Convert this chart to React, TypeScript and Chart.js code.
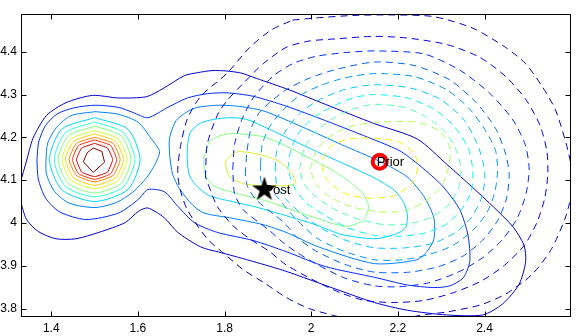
import React, { useEffect, useRef } from "react";
import { Chart, registerables } from "chart.js";

Chart.register(...registerables);

type P = [number, number];

// axis limits and ticks
const X_MIN = 1.3302;
const X_MAX = 2.5973;
const Y_MIN = 3.7814;
const Y_MAX = 4.4882;
const X_TICKS = [1.4, 1.6, 1.8, 2, 2.2, 2.4];
const Y_TICKS = [3.8, 3.9, 4, 4.1, 4.2, 4.3, 4.4];

// markers and their labels
const POST_POINT: P = [1.892, 4.078];
const PRIOR_POINT: P = [2.158, 4.143];
const POST_LABEL = "Post";
const PRIOR_LABEL = "Prior";

// ---- posterior (solid) contours ----
const POST_L1: P[] = [
  [1.329, 4.051], [1.343, 4.008], [1.37, 3.98], [1.411, 3.963], [1.457, 3.963], [1.51, 3.978], [1.571, 4.001],
  [1.601, 4.027], [1.623, 4.035], [1.661, 4.012], [1.692, 3.978], [1.745, 3.944], [1.798, 3.929], [1.866, 3.91],
  [1.942, 3.887], [2.055, 3.846], [2.146, 3.814], [2.222, 3.796], [2.313, 3.785], [2.396, 3.785], [2.442, 3.811],
  [2.48, 3.857], [2.495, 3.91], [2.491, 3.948], [2.464, 3.993], [2.396, 4.061], [2.313, 4.137], [2.245, 4.196],
  [2.146, 4.232], [2.033, 4.277], [1.949, 4.311], [1.873, 4.338], [1.839, 4.35], [1.805, 4.355], [1.771, 4.356],
  [1.737, 4.351], [1.707, 4.344], [1.658, 4.314], [1.62, 4.295], [1.555, 4.292], [1.495, 4.298], [1.434, 4.281],
  [1.389, 4.251], [1.358, 4.198], [1.343, 4.145], [1.329, 4.096],
];
const POST_L2: P[] = [
  [1.367, 4.148], [1.37, 4.103], [1.387, 4.058], [1.419, 4.026], [1.48, 4.008], [1.555, 4.023], [1.601, 4.055],
  [1.623, 4.078], [1.661, 4.073], [1.692, 4.039], [1.73, 4.001], [1.783, 3.978], [1.866, 3.959], [1.942, 3.933],
  [2.033, 3.898], [2.146, 3.873], [2.222, 3.855], [2.283, 3.849], [2.32, 3.853], [2.351, 3.872], [2.366, 3.91],
  [2.362, 3.97], [2.343, 4.031], [2.305, 4.084], [2.26, 4.126], [2.207, 4.167], [2.146, 4.194], [2.033, 4.239],
  [1.942, 4.273], [1.866, 4.296], [1.805, 4.304], [1.76, 4.302], [1.714, 4.292], [1.669, 4.27], [1.623, 4.246],
  [1.589, 4.258], [1.555, 4.27], [1.501, 4.275], [1.453, 4.269], [1.414, 4.255], [1.387, 4.228], [1.371, 4.189],
  [1.367, 4.148],
];
const POST_L3_LEFT: P[] = [
  [1.501, 4.26], [1.555, 4.254], [1.601, 4.235], [1.63, 4.198], [1.65, 4.167], [1.642, 4.142], [1.628, 4.117],
  [1.612, 4.096], [1.587, 4.071], [1.551, 4.048], [1.501, 4.036], [1.442, 4.046], [1.408, 4.073], [1.389, 4.114],
  [1.388, 4.148], [1.392, 4.187], [1.412, 4.223], [1.446, 4.251], [1.501, 4.26],
];
const POST_L4_LEFT: P[] = [
  [1.5, 4.246], [1.577, 4.219], [1.605, 4.148], [1.577, 4.078], [1.5, 4.05], [1.424, 4.078], [1.396, 4.148],
  [1.424, 4.219], [1.5, 4.246],
];
const POST_L5_LEFT: P[] = [
  [1.5, 4.236], [1.567, 4.211], [1.593, 4.148], [1.567, 4.085], [1.5, 4.061], [1.433, 4.085], [1.407, 4.148],
  [1.433, 4.211], [1.5, 4.236],
];
const POST_L6_LEFT: P[] = [
  [1.5, 4.226], [1.561, 4.204], [1.584, 4.148], [1.561, 4.092], [1.5, 4.07], [1.44, 4.092], [1.416, 4.148],
  [1.44, 4.204], [1.5, 4.226],
];
const POST_L7: P[] = [
  [1.5, 4.216], [1.554, 4.197], [1.575, 4.148], [1.554, 4.099], [1.5, 4.08], [1.446, 4.099], [1.425, 4.148],
  [1.446, 4.197], [1.5, 4.216],
];
const POST_L8: P[] = [
  [1.5, 4.208], [1.548, 4.191], [1.567, 4.148], [1.548, 4.105], [1.5, 4.088], [1.452, 4.105], [1.433, 4.148],
  [1.452, 4.191], [1.5, 4.208],
];
const POST_L9: P[] = [
  [1.5, 4.2], [1.543, 4.186], [1.559, 4.148], [1.543, 4.111], [1.5, 4.096], [1.458, 4.111], [1.441, 4.148],
  [1.458, 4.186], [1.5, 4.2],
];
const POST_L10: P[] = [
  [1.5, 4.194], [1.537, 4.181], [1.551, 4.148], [1.537, 4.115], [1.5, 4.102], [1.463, 4.115], [1.449, 4.148],
  [1.463, 4.181], [1.5, 4.194],
];
const POST_L11: P[] = [
  [1.5, 4.186], [1.53, 4.175], [1.542, 4.148], [1.53, 4.119], [1.5, 4.108], [1.47, 4.119], [1.458, 4.148],
  [1.47, 4.175], [1.5, 4.186],
];
const POST_L12: P[] = [
  [1.497, 4.175], [1.517, 4.167], [1.523, 4.142], [1.497, 4.118], [1.474, 4.143], [1.483, 4.164], [1.497, 4.175],
];
const POST_L3_RIGHT: P[] = [
  [1.673, 4.16], [1.673, 4.198], [1.688, 4.239], [1.714, 4.26], [1.737, 4.27], [1.783, 4.275], [1.828, 4.273],
  [1.889, 4.262], [1.98, 4.224], [2.07, 4.183], [2.158, 4.144], [2.221, 4.108], [2.26, 4.062], [2.283, 4.012],
  [2.283, 3.962], [2.267, 3.933], [2.244, 3.914], [2.146, 3.905], [2.017, 3.944], [1.942, 3.978], [1.889, 3.996],
  [1.812, 4.012], [1.753, 4.023], [1.726, 4.042], [1.696, 4.08], [1.68, 4.114], [1.673, 4.16],
];
const POST_L4_RIGHT: P[] = [
  [1.714, 4.178], [1.721, 4.212], [1.744, 4.233], [1.775, 4.242], [1.812, 4.246], [1.851, 4.242], [1.903, 4.219],
  [1.995, 4.175], [2.078, 4.137], [2.146, 4.105], [2.192, 4.076], [2.214, 4.046], [2.222, 4.019], [2.218, 3.989],
  [2.192, 3.973], [2.146, 3.963], [2.07, 3.973], [2.01, 3.996], [1.942, 4.017], [1.873, 4.037], [1.813, 4.051],
  [1.764, 4.064], [1.733, 4.089], [1.718, 4.114], [1.714, 4.148], [1.714, 4.178],
];
const POST_L5_RIGHT: P[] = [
  [1.752, 4.153], [1.767, 4.192], [1.794, 4.205], [1.82, 4.209], [1.858, 4.206], [1.892, 4.201], [1.942, 4.18],
  [1.995, 4.152], [2.044, 4.126], [2.085, 4.099], [2.119, 4.069], [2.131, 4.046], [2.131, 4.028], [2.119, 4.005],
  [2.078, 3.992], [2.01, 4.012], [1.942, 4.035], [1.892, 4.053], [1.828, 4.069], [1.775, 4.087], [1.755, 4.114],
  [1.752, 4.153],
];
const POST_L6_RIGHT: P[] = [
  [1.801, 4.144], [1.828, 4.166], [1.881, 4.16], [1.926, 4.144], [1.953, 4.119], [1.964, 4.094], [1.942, 4.087],
  [1.896, 4.087], [1.843, 4.092], [1.81, 4.11], [1.801, 4.144],
];

// ---- prior (dashed) contours ----
const PRIOR_D1: P[] = [
  [1.957, 4.474], [2.01, 4.479], [2.101, 4.485], [2.192, 4.486], [2.283, 4.482], [2.373, 4.455], [2.449, 4.41],
  [2.495, 4.372], [2.533, 4.319], [2.563, 4.266], [2.585, 4.198], [2.598, 4.144], [2.603, 4.092], [2.596, 4.046],
  [2.585, 4.008], [2.555, 3.94], [2.51, 3.88], [2.449, 3.834], [2.389, 3.808], [2.313, 3.792], [2.245, 3.783],
  [2.18, 3.764], [2.112, 3.769], [2.055, 3.783], [1.995, 3.8], [1.942, 3.826], [1.896, 3.857], [1.843, 3.891],
  [1.798, 3.929], [1.76, 3.963], [1.714, 4.031], [1.696, 4.084], [1.692, 4.126], [1.699, 4.183], [1.714, 4.243],
  [1.745, 4.296], [1.805, 4.349], [1.858, 4.41], [1.908, 4.451], [1.957, 4.474],
];
const PRIOR_D2: P[] = [
  [1.756, 4.107], [1.76, 4.183], [1.783, 4.251], [1.805, 4.285], [1.843, 4.326], [1.889, 4.372], [1.942, 4.41],
  [1.995, 4.425], [2.055, 4.43], [2.146, 4.436], [2.222, 4.432], [2.313, 4.417], [2.389, 4.387], [2.449, 4.342],
  [2.495, 4.289], [2.528, 4.228], [2.544, 4.167], [2.546, 4.114], [2.539, 4.058], [2.521, 4.001], [2.492, 3.948],
  [2.446, 3.901], [2.392, 3.864], [2.328, 3.837], [2.26, 3.819], [2.192, 3.814], [2.123, 3.819], [2.067, 3.837],
  [2.01, 3.864], [1.942, 3.902], [1.904, 3.933], [1.858, 3.963], [1.82, 3.993], [1.783, 4.039], [1.756, 4.107],
];
const PRIOR_D3: P[] = [
  [1.819, 4.126], [1.823, 4.183], [1.839, 4.239], [1.866, 4.292], [1.911, 4.342], [1.957, 4.372], [2.01, 4.389],
  [2.078, 4.398], [2.146, 4.402], [2.26, 4.395], [2.343, 4.357], [2.411, 4.304], [2.464, 4.243], [2.494, 4.183],
  [2.503, 4.126], [2.496, 4.069], [2.476, 4.012], [2.442, 3.962], [2.396, 3.919], [2.339, 3.885], [2.271, 3.86],
  [2.203, 3.851], [2.146, 3.853], [2.078, 3.871], [2.01, 3.905], [1.964, 3.933], [1.934, 3.955], [1.904, 3.982],
  [1.843, 4.031], [1.823, 4.069], [1.819, 4.126],
];
const PRIOR_D4: P[] = [
  [1.848, 4.114], [1.851, 4.16], [1.86, 4.217], [1.878, 4.255], [1.904, 4.281], [1.942, 4.311], [1.995, 4.338],
  [2.055, 4.358], [2.146, 4.376], [2.237, 4.368], [2.32, 4.334], [2.381, 4.281], [2.426, 4.22], [2.449, 4.16],
  [2.457, 4.114], [2.451, 4.058], [2.43, 4.005], [2.396, 3.96], [2.351, 3.923], [2.294, 3.898], [2.226, 3.885],
  [2.146, 3.885], [2.078, 3.903], [2.01, 3.935], [1.964, 3.969], [1.942, 3.996], [1.919, 4.016], [1.873, 4.054],
  [1.853, 4.085], [1.848, 4.114],
];
const PRIOR_D5: P[] = [
  [1.883, 4.137], [1.887, 4.183], [1.903, 4.223], [1.933, 4.262], [1.971, 4.296], [2.021, 4.321], [2.078, 4.339],
  [2.146, 4.349], [2.237, 4.342], [2.313, 4.311], [2.366, 4.266], [2.404, 4.213], [2.426, 4.167], [2.43, 4.119],
  [2.423, 4.069], [2.405, 4.023], [2.373, 3.983], [2.328, 3.948], [2.271, 3.926], [2.21, 3.914], [2.146, 3.914],
  [2.078, 3.933], [2.014, 3.964], [1.969, 4.005], [1.942, 4.035], [1.919, 4.064], [1.885, 4.096], [1.883, 4.137],
];
const PRIOR_D6: P[] = [
  [1.917, 4.126], [1.921, 4.171], [1.942, 4.217], [1.976, 4.258], [2.021, 4.289], [2.078, 4.312], [2.146, 4.323],
  [2.23, 4.315], [2.298, 4.289], [2.351, 4.243], [2.381, 4.19], [2.396, 4.145], [2.401, 4.103], [2.392, 4.055],
  [2.369, 4.012], [2.333, 3.978], [2.283, 3.953], [2.219, 3.942], [2.146, 3.942], [2.078, 3.96], [2.021, 3.989],
  [1.976, 4.023], [1.942, 4.055], [1.921, 4.087], [1.917, 4.126],
];
const PRIOR_D7: P[] = [
  [1.946, 4.126], [1.953, 4.171], [1.971, 4.21], [2.005, 4.246], [2.051, 4.273], [2.096, 4.292], [2.146, 4.3],
  [2.222, 4.292], [2.283, 4.266], [2.328, 4.228], [2.362, 4.175], [2.373, 4.122], [2.369, 4.073], [2.346, 4.03],
  [2.31, 3.996], [2.26, 3.976], [2.203, 3.969], [2.146, 3.971], [2.083, 3.989], [2.033, 4.017], [1.987, 4.048],
  [1.96, 4.085], [1.946, 4.126],
];
const PRIOR_D8: P[] = [
  [1.973, 4.126], [1.983, 4.171], [2.005, 4.208], [2.039, 4.237], [2.089, 4.264], [2.146, 4.277], [2.214, 4.27],
  [2.267, 4.247], [2.309, 4.213], [2.336, 4.167], [2.346, 4.122], [2.339, 4.078], [2.317, 4.042], [2.278, 4.014],
  [2.226, 3.998], [2.169, 3.996], [2.112, 4.008], [2.055, 4.031], [2.01, 4.062], [1.983, 4.092], [1.973, 4.126],
];
const PRIOR_D9: P[] = [
  [1.998, 4.126], [2.01, 4.164], [2.037, 4.198], [2.083, 4.223], [2.146, 4.235], [2.245, 4.235], [2.298, 4.213],
  [2.32, 4.175], [2.317, 4.13], [2.301, 4.087], [2.264, 4.051], [2.214, 4.028], [2.158, 4.026], [2.096, 4.037],
  [2.044, 4.06], [2.01, 4.092], [1.998, 4.126],
];
const PRIOR_D10: P[] = [
  [2.026, 4.148], [2.044, 4.178], [2.085, 4.196], [2.146, 4.198], [2.203, 4.189], [2.237, 4.164], [2.246, 4.133],
  [2.235, 4.096], [2.192, 4.064], [2.135, 4.058], [2.078, 4.069], [2.039, 4.098], [2.026, 4.126], [2.026, 4.148],
];

const SOLID_LINES: { pts: P[]; color: string; tension: number }[] = [
  { pts: POST_L1, color: "rgb(0,0,205)", tension: 0.25 },
  { pts: POST_L2, color: "rgb(0,43,255)", tension: 0.25 },
  { pts: POST_L3_LEFT, color: "rgb(0,128,255)", tension: 0.25 },
  { pts: POST_L3_RIGHT, color: "rgb(0,128,255)", tension: 0.25 },
  { pts: POST_L4_LEFT, color: "rgb(0,212,255)", tension: 0.25 },
  { pts: POST_L4_RIGHT, color: "rgb(0,212,255)", tension: 0.25 },
  { pts: POST_L5_LEFT, color: "rgb(43,255,212)", tension: 0.25 },
  { pts: POST_L5_RIGHT, color: "rgb(128,255,128)", tension: 0.25 },
  { pts: POST_L6_LEFT, color: "rgb(128,255,128)", tension: 0.25 },
  { pts: POST_L6_RIGHT, color: "rgb(212,240,43)", tension: 0.25 },
  { pts: POST_L7, color: "rgb(212,255,43)", tension: 0.2 },
  { pts: POST_L8, color: "rgb(255,212,0)", tension: 0.2 },
  { pts: POST_L9, color: "rgb(255,128,0)", tension: 0.15 },
  { pts: POST_L10, color: "rgb(255,43,0)", tension: 0.15 },
  { pts: POST_L11, color: "rgb(212,0,0)", tension: 0.1 },
  { pts: POST_L12, color: "rgb(128,0,0)", tension: 0 },
];

const DASHED_LINES: { pts: P[]; color: string }[] = [
  { pts: PRIOR_D1, color: "rgb(0,0,185)" },
  { pts: PRIOR_D2, color: "rgb(0,0,235)" },
  { pts: PRIOR_D3, color: "rgb(0,40,255)" },
  { pts: PRIOR_D4, color: "rgb(0,95,255)" },
  { pts: PRIOR_D5, color: "rgb(0,150,255)" },
  { pts: PRIOR_D6, color: "rgb(0,200,255)" },
  { pts: PRIOR_D7, color: "rgb(0,245,250)" },
  { pts: PRIOR_D8, color: "rgb(80,255,175)" },
  { pts: PRIOR_D9, color: "rgb(170,255,85)" },
  { pts: PRIOR_D10, color: "rgb(240,240,0)" },
];

const FONT = '"Liberation Sans", Arial, Helvetica, sans-serif';

function makeStar(): HTMLCanvasElement {
  const c = document.createElement("canvas");
  c.width = 28;
  c.height = 28;
  const g = c.getContext("2d")!;
  const R = 13;
  const r = 5;
  g.fillStyle = "#000";
  g.beginPath();
  for (let i = 0; i < 10; i++) {
    const a = -Math.PI / 2 + (i * Math.PI) / 5;
    const rad = i % 2 === 0 ? R : r;
    const px = 14 + rad * Math.cos(a);
    const py = 14 + rad * Math.sin(a);
    if (i === 0) g.moveTo(px, py);
    else g.lineTo(px, py);
  }
  g.closePath();
  g.fill();
  return c;
}

export default function App() {
  const ref = useRef<HTMLCanvasElement | null>(null);

  useEffect(() => {
    if (!ref.current) return;
    const star = makeStar();

    const lineSet = (pts: P[], color: string, dashed: boolean, tension: number) => ({
      data: pts.map(([x, y]) => ({ x, y })),
      showLine: true,
      borderColor: color,
      backgroundColor: color,
      borderWidth: 1,
      borderDash: dashed ? [7, 5] : [],
      pointRadius: 0,
      pointHoverRadius: 0,
      tension,
      fill: false,
      clip: 0,
    });

    const frame = {
      id: "frame",
      afterDraw(chart: any) {
        const { ctx, chartArea: a, scales } = chart;
        const xs = scales.x;
        const ys = scales.y;
        const L = Math.floor(a.left) + 0.5;
        const R = Math.floor(a.right) + 0.5;
        const T = Math.floor(a.top) + 0.5;
        const B = Math.floor(a.bottom) + 0.5;
        ctx.save();
        ctx.strokeStyle = "#000";
        ctx.lineWidth = 1;
        ctx.setLineDash([]);
        ctx.strokeRect(L, T, R - L, B - T);
        ctx.beginPath();
        X_TICKS.forEach((v) => {
          const p = Math.round(xs.getPixelForValue(v)) + 0.5;
          ctx.moveTo(p, B);
          ctx.lineTo(p, B - 5);
          ctx.moveTo(p, T);
          ctx.lineTo(p, T + 5);
        });
        Y_TICKS.forEach((v) => {
          const p = Math.round(ys.getPixelForValue(v)) + 0.5;
          ctx.moveTo(L, p);
          ctx.lineTo(L + 5, p);
          ctx.moveTo(R, p);
          ctx.lineTo(R - 5, p);
        });
        ctx.stroke();
        ctx.fillStyle = "#000";
        ctx.font = `13px ${FONT}`;
        ctx.textAlign = "left";
        ctx.textBaseline = "middle";
        ctx.fillText(POST_LABEL, xs.getPixelForValue(POST_POINT[0]), ys.getPixelForValue(POST_POINT[1]) + 1);
        ctx.fillText(PRIOR_LABEL, xs.getPixelForValue(PRIOR_POINT[0]) - 3, ys.getPixelForValue(PRIOR_POINT[1]) + 1);
        ctx.restore();
      },
    };

    const zeroPad = (s: any) => {
      s.paddingTop = 0;
      s.paddingBottom = 0;
      s.paddingLeft = 0;
      s.paddingRight = 0;
    };

    const datasets: any[] = [
      {
        data: [{ x: POST_POINT[0], y: POST_POINT[1] }],
        showLine: false,
        pointStyle: star,
        pointRadius: 13,
        pointHoverRadius: 13,
        clip: false,
      },
      {
        data: [{ x: PRIOR_POINT[0], y: PRIOR_POINT[1] }],
        showLine: false,
        pointStyle: "circle",
        pointRadius: 7,
        pointHoverRadius: 7,
        borderWidth: 4,
        borderColor: "rgb(255,0,0)",
        backgroundColor: "rgba(0,0,0,0)",
        clip: false,
      },
      ...DASHED_LINES.map((d) => lineSet(d.pts, d.color, true, 0.25)),
      ...SOLID_LINES.map((d) => lineSet(d.pts, d.color, false, d.tension)),
    ];

    const chart = new Chart(ref.current, {
      type: "scatter",
      data: { datasets },
      options: {
        animation: false,
        responsive: false,
        devicePixelRatio: 1,
        events: [],
        layout: { padding: { left: 0, right: 5.5, top: 5.5, bottom: 0 } },
        plugins: { legend: { display: false }, tooltip: { enabled: false } },
        scales: {
          x: {
            type: "linear",
            min: X_MIN,
            max: X_MAX,
            afterBuildTicks: (s: any) => {
              s.ticks = X_TICKS.map((v) => ({ value: v }));
            },
            afterFit: (s: any) => {
              s.height = 19.5;
              zeroPad(s);
            },
            grid: { display: false, drawTicks: false },
            border: { display: false },
            ticks: {
              padding: 5,
              color: "#000",
              font: { family: FONT, size: 12 },
              maxRotation: 0,
              autoSkip: false,
              callback: (v: any) => String(v),
            },
          },
          y: {
            type: "linear",
            min: Y_MIN,
            max: Y_MAX,
            afterBuildTicks: (s: any) => {
              s.ticks = Y_TICKS.map((v) => ({ value: v }));
            },
            afterFit: (s: any) => {
              s.width = 21;
              zeroPad(s);
            },
            grid: { display: false, drawTicks: false },
            border: { display: false },
            ticks: {
              padding: 4,
              color: "#000",
              font: { family: FONT, size: 12 },
              autoSkip: false,
              callback: (v: any) => String(v),
            },
          },
        },
      },
      plugins: [frame],
    } as any);

    return () => chart.destroy();
  }, []);

  return (
    <div style={{ position: "fixed", left: 0, top: 0, width: 584, height: 336, background: "#fff" }}>
      <canvas ref={ref} width={584} height={336} style={{ width: 584, height: 336, display: "block" }} />
    </div>
  );
}
